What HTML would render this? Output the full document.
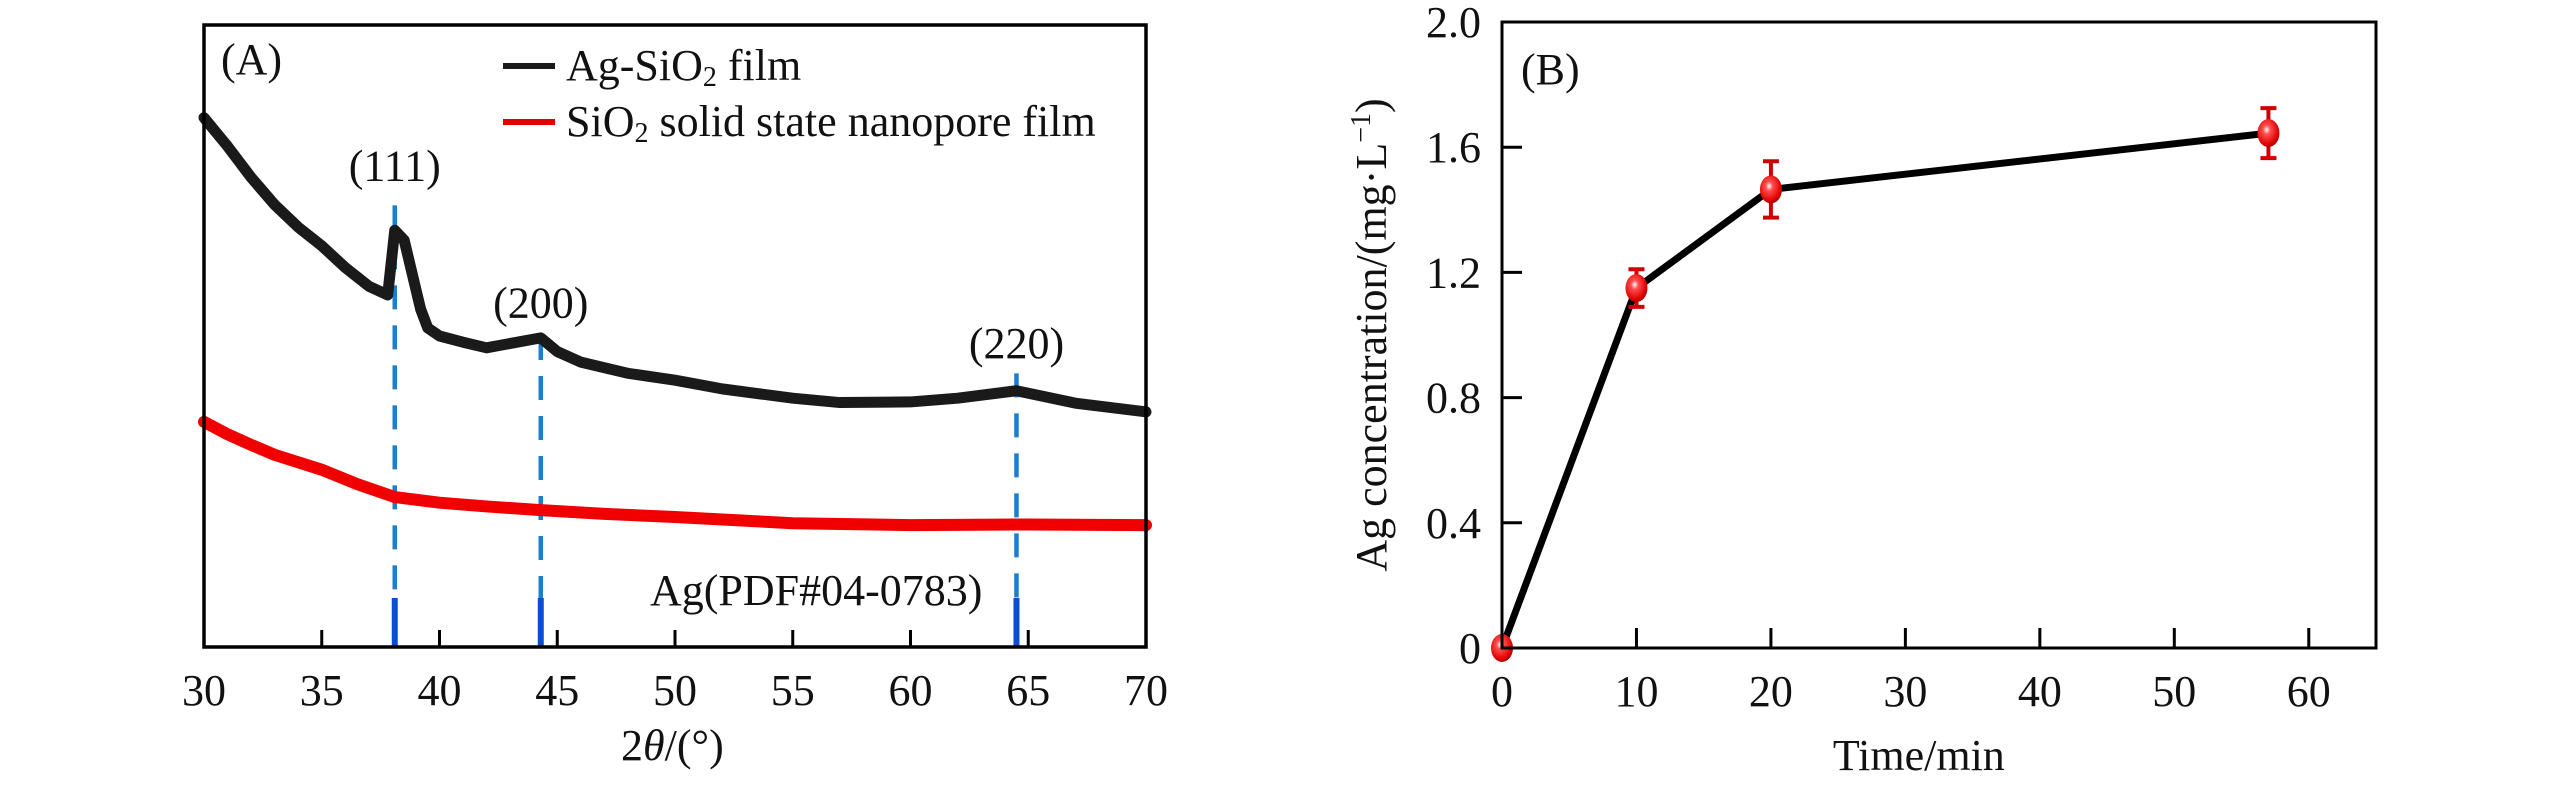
<!DOCTYPE html>
<html><head><meta charset="utf-8">
<style>
html,body{margin:0;padding:0;background:#fff;}
svg{display:block;font-family:"Liberation Serif","Times New Roman",serif;}
</style></head>
<body>
<svg id="chart" width="2567" height="787" viewBox="0 0 2567 787" xmlns="http://www.w3.org/2000/svg">
<defs>
<radialGradient id="ballGrad" cx="0.42" cy="0.38" r="0.65">
<stop offset="0" stop-color="#ffffff"/>
<stop offset="0.25" stop-color="#ff5050"/>
<stop offset="0.8" stop-color="#e00000"/>
<stop offset="1" stop-color="#a00000"/>
</radialGradient>
</defs>
<g id="panelA"></g>
<g id="panelB"></g>
</svg>
<script>
// ---------- Panel A data ----------
const xrdBlackX = [30, 31, 32, 33, 34, 35, 36, 37, 37.8, 38.1, 38.5, 39.2, 39.5, 40, 41, 42, 44.3, 45, 46, 48, 50, 52, 55, 57, 60, 62, 64.5, 67, 70];
const xrdBlackY = [85.1, 80.5, 75.5, 71.1, 67.5, 64.5, 61, 58, 56.6, 67, 65.4, 54.3, 51.3, 50, 49, 48.1, 49.7, 47.5, 45.8, 44, 42.9, 41.5, 40, 39.3, 39.4, 40, 41.2, 39.2, 37.8];
const xrdRedX = [30, 31, 32, 33, 35, 36.5, 38.1, 40, 42, 44.3, 47, 50, 55, 60, 65, 70];
const xrdRedY = [36.2, 34.2, 32.5, 30.9, 28.5, 26.2, 24.1, 23.2, 22.6, 22.0, 21.4, 20.9, 19.9, 19.6, 19.7, 19.6];
const peakPos = [38.1, 44.3, 64.5];
const peakTop = [71, 50, 44];
const peakLabels = ["(111)", "(200)", "(220)"];
const peakLabelY = [75, 53, 46.5];
const xTicksA = [30, 35, 40, 45, 50, 55, 60, 65, 70];

// ---------- Panel B data ----------
const timeX = [0, 10, 20, 57];
const concY = [0, 1.15, 1.465, 1.645];
const concErr = [0, 0.06, 0.09, 0.08];
const xTicksB = [0, 10, 20, 30, 40, 50, 60];
const yTicksB = [0, 0.4, 0.8, 1.2, 1.6, 2.0];
const yTickLabelsB = ["0", "0.4", "0.8", "1.2", "1.6", "2.0"];

const NS = "http://www.w3.org/2000/svg";
function mk(tag, attrs, parent, text) {
  const e = document.createElementNS(NS, tag);
  for (const k in attrs) e.setAttribute(k, attrs[k]);
  if (text !== undefined) e.textContent = text;
  parent.appendChild(e);
  return e;
}

// ---- Panel A ----
const A = document.getElementById('panelA');
const aL = 204, aR = 1146, aT = 25, aB = 647;
const ax = v => aL + (v - 30) / 40 * (aR - aL);
const ay = v => aB - v / 100 * (aB - aT);

peakPos.forEach((p, i) => {
  let l = mk('line', {x1: ax(p), x2: ax(p), y1: ay(peakTop[i]), y2: 598, stroke: '#1a7fd0', 'stroke-width': 4.5, 'stroke-dasharray': '24 16'}, A);
  
  
  let b = mk('line', {x1: ax(p), x2: ax(p), y1: 598, y2: aB, stroke: '#0a4fcf', 'stroke-width': 6}, A);
  
  
  let t = mk('text', {x: ax(p), y: ay(peakLabelY[i]), 'font-size': 44, 'text-anchor': 'middle', fill: '#111'}, A, peakLabels[i]);
  
  
});

function poly(xs, ys, color, w, name) {
  const pts = xs.map((x, i) => ax(x) + ',' + ay(ys[i])).join(' ');
  const p = mk('polyline', {points: pts, fill: 'none', stroke: color, 'stroke-width': w, 'stroke-linejoin': 'round', 'stroke-linecap': 'round'}, A);
  
  
}
poly(xrdRedX, xrdRedY, '#f00000', 12, 'sio2-film-curve');
poly(xrdBlackX, xrdBlackY, '#1a1a1a', 11, 'ag-sio2-film-curve');

let fA = mk('rect', {x: aL, y: aT, width: aR - aL, height: aB - aT, fill: 'none', stroke: '#000', 'stroke-width': 3.5}, A);


xTicksA.forEach(v => {
  if (v > 30 && v < 70) {
    let t = mk('line', {x1: ax(v), x2: ax(v), y1: aB, y2: aB - 17, stroke: '#000', 'stroke-width': 3}, A);
    
    
  }
  let l = mk('text', {x: ax(v), y: 705, 'font-size': 44, 'text-anchor': 'middle', fill: '#111'}, A, String(v));
  
  
});
let xtA = mk('text', {x: 621, y: 760, 'font-size': 44, fill: '#111'}, A);


xtA.innerHTML = '2<tspan font-style="italic">θ</tspan>/(°)';

let pa = mk('text', {x: 221, y: 74, 'font-size': 44, fill: '#111'}, A, '(A)');


let pdf = mk('text', {x: 650, y: 605, 'font-size': 44, fill: '#111'}, A, 'Ag(PDF#04-0783)');



let lg1 = mk('line', {x1: 503, x2: 555, y1: 66, y2: 66, stroke: '#1a1a1a', 'stroke-width': 6}, A);


let lt1 = mk('text', {x: 566, y: 80, 'font-size': 44, fill: '#111'}, A);


lt1.innerHTML = 'Ag-SiO<tspan font-size="28" dy="6">2</tspan><tspan dy="-6"> film</tspan>';
let lg2 = mk('line', {x1: 503, x2: 555, y1: 122, y2: 122, stroke: '#e00000', 'stroke-width': 6}, A);


let lt2 = mk('text', {x: 566, y: 136, 'font-size': 44, fill: '#111'}, A);


lt2.innerHTML = 'SiO<tspan font-size="28" dy="6">2</tspan><tspan dy="-6"> solid state nanopore film</tspan>';

// ---- Panel B ----
const B = document.getElementById('panelB');
const bL = 1502, bR = 2376, bT = 22, bB = 648;
const bx = v => bL + v / 65 * (bR - bL);
const by = v => bB - v / 2.0 * (bB - bT);

let ln = mk('polyline', {points: timeX.map((t, i) => bx(t) + ',' + by(concY[i])).join(' '), fill: 'none', stroke: '#000', 'stroke-width': 7, 'stroke-linejoin': 'round'}, B);



timeX.forEach((t, i) => {
  const cx = bx(t), cy = by(concY[i]);
  if (concErr[i] > 0) {
    const e1 = by(concY[i] + concErr[i]), e2 = by(concY[i] - concErr[i]);
    let eb = mk('path', {d: `M${cx},${e1}V${e2}M${cx - 8},${e1}H${cx + 8}M${cx - 8},${e2}H${cx + 8}`, stroke: '#d00000', 'stroke-width': 4, fill: 'none'}, B);
    
    
  }
  let c = mk('ellipse', {cx: cx, cy: cy, rx: 11, ry: 14, fill: 'url(#ballGrad)'}, B);
  
  
});

let fB = mk('rect', {x: bL, y: bT, width: bR - bL, height: bB - bT, fill: 'none', stroke: '#000', 'stroke-width': 3}, B);



xTicksB.forEach(v => {
  if (v > 0) {
    let t = mk('line', {x1: bx(v), x2: bx(v), y1: bB, y2: bB - 20, stroke: '#000', 'stroke-width': 3}, B);
    
    
  }
  let l = mk('text', {x: bx(v), y: 706, 'font-size': 44, 'text-anchor': 'middle', fill: '#111'}, B, String(v));
  
  
});
yTicksB.forEach((v, i) => {
  if (v > 0 && v < 2.0) {
    let t = mk('line', {x1: bL, x2: bL + 20, y1: by(v), y2: by(v), stroke: '#000', 'stroke-width': 3}, B);
    
    
  }
  let l = mk('text', {x: 1481, y: by(v) + 15, 'font-size': 44, 'text-anchor': 'end', fill: '#111'}, B, yTickLabelsB[i]);
  
  
});
let xtB = mk('text', {x: bx(31), y: 770, 'font-size': 44, 'text-anchor': 'middle', fill: '#111'}, B, 'Time/min');


let ytB = mk('text', {x: 0, y: 0, 'font-size': 44, 'text-anchor': 'middle', fill: '#111', transform: 'translate(1386,335) rotate(-90)'}, B);


ytB.innerHTML = 'Ag concentration/(mg·L<tspan font-size="28" dy="-16">−1</tspan><tspan dy="16">)</tspan>';
let pb = mk('text', {x: 1521, y: 84, 'font-size': 44, fill: '#111'}, B, '(B)');


</script>
</body></html>
